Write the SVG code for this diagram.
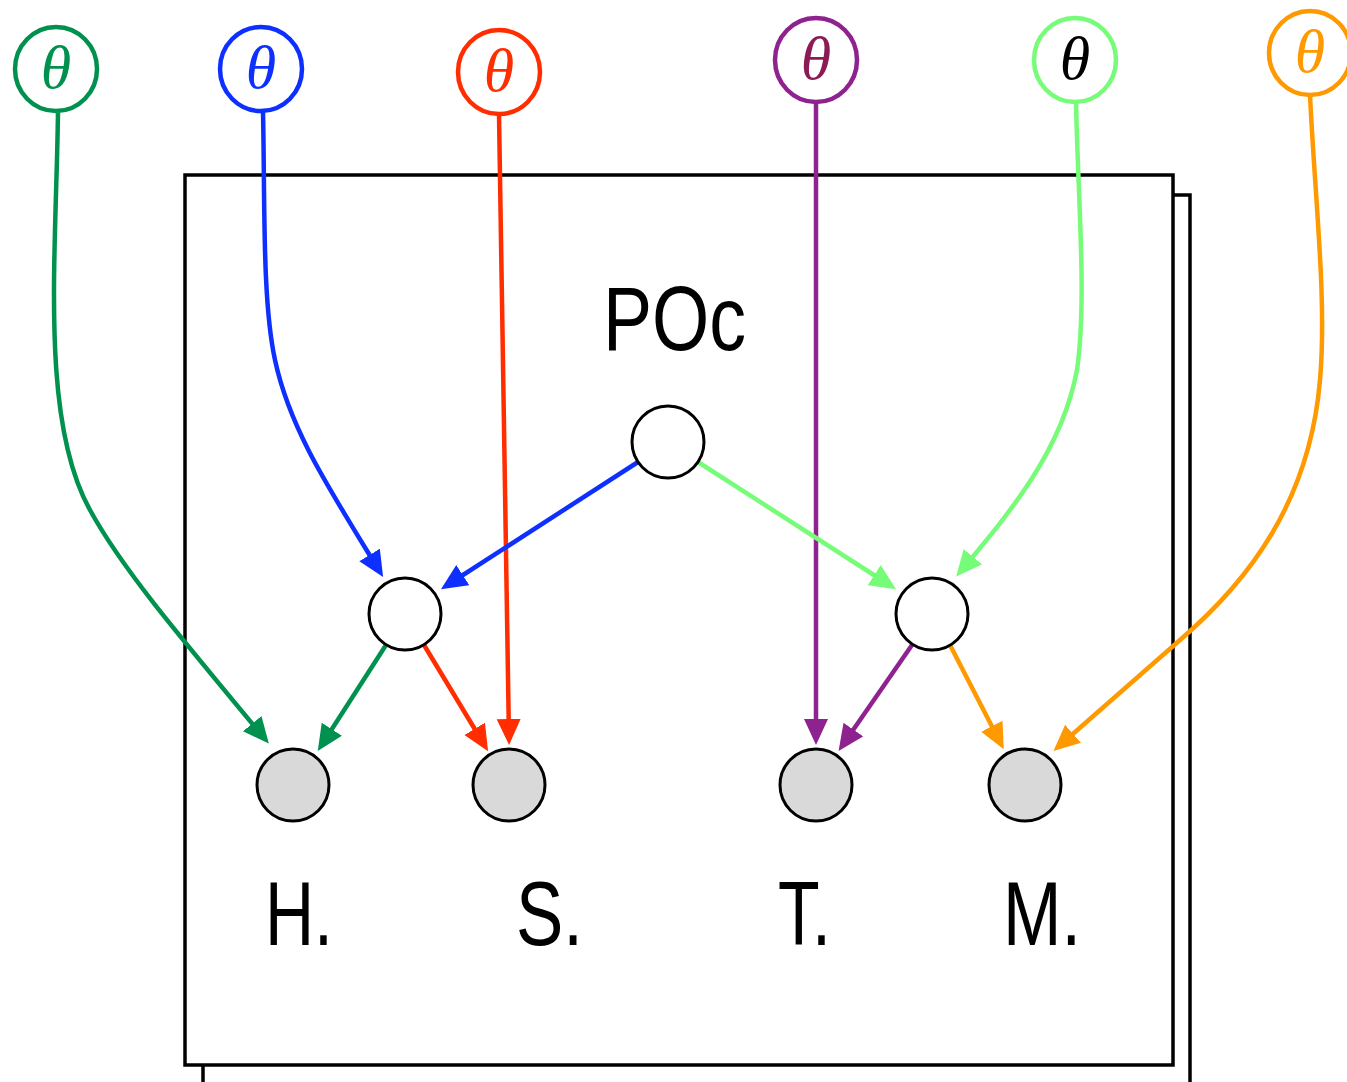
<svg xmlns="http://www.w3.org/2000/svg" width="1347" height="1082" viewBox="0 0 1347 1082">
<style>
.box{fill:#fff;stroke:#000;stroke-width:3.5}
.lat{fill:#fff;stroke:#000;stroke-width:3}
.obs{fill:#d9d9d9;stroke:#000;stroke-width:3}
.th{fill:#fff;stroke-width:4.5}
.tht{font-family:"Liberation Serif",serif;font-style:italic;font-size:62px;text-anchor:middle}
.lbl{font-family:"Liberation Sans",Arial,sans-serif;font-size:90px;fill:#000}
.e{fill:none;stroke-width:4.5}
</style>
<defs>
<marker id="mG" markerUnits="userSpaceOnUse" markerWidth="28" markerHeight="26" refX="20" refY="12" orient="auto"><path d="M0,0 L26,12 L0,24 Z" fill="#00914f"/></marker>
<marker id="mB" markerUnits="userSpaceOnUse" markerWidth="28" markerHeight="26" refX="20" refY="12" orient="auto"><path d="M0,0 L26,12 L0,24 Z" fill="#0d2fff"/></marker>
<marker id="mR" markerUnits="userSpaceOnUse" markerWidth="28" markerHeight="26" refX="20" refY="12" orient="auto"><path d="M0,0 L26,12 L0,24 Z" fill="#ff2d00"/></marker>
<marker id="mP" markerUnits="userSpaceOnUse" markerWidth="28" markerHeight="26" refX="20" refY="12" orient="auto"><path d="M0,0 L26,12 L0,24 Z" fill="#8e2390"/></marker>
<marker id="mL" markerUnits="userSpaceOnUse" markerWidth="28" markerHeight="26" refX="20" refY="12" orient="auto"><path d="M0,0 L26,12 L0,24 Z" fill="#76fc78"/></marker>
<marker id="mO" markerUnits="userSpaceOnUse" markerWidth="28" markerHeight="26" refX="20" refY="12" orient="auto"><path d="M0,0 L26,12 L0,24 Z" fill="#ff9900"/></marker>
</defs>
<g id="plate">
<rect class="box" x="203" y="195" width="987" height="890"/>
<rect class="box" x="185" y="175" width="988" height="890"/>
</g>
<g id="labels">
<text class="lbl" x="603" y="350" textLength="143" lengthAdjust="spacingAndGlyphs">POc</text>
<text class="lbl" x="265" y="945" textLength="68" lengthAdjust="spacingAndGlyphs">H.</text>
<text class="lbl" x="516" y="945" textLength="67" lengthAdjust="spacingAndGlyphs">S.</text>
<text class="lbl" x="778" y="945" textLength="53" lengthAdjust="spacingAndGlyphs">T.</text>
<text class="lbl" x="1003" y="945" textLength="78" lengthAdjust="spacingAndGlyphs">M.</text>
</g>
<g id="connectors">
<path class="e" stroke="#00914f" marker-end="url(#mG)" d="M58,112 C56,260 40,420 90,510 C120,565 170,625 265,739"/>
<path class="e" stroke="#0d2fff" marker-end="url(#mB)" d="M263,112 C265,200 262,300 275,360 C290,430 330,490 380,572"/>
<path class="e" stroke="#ff2d00" marker-end="url(#mR)" d="M499,114 L509,739"/>
<path class="e" stroke="#8e2390" marker-end="url(#mP)" d="M816,102 L816,739"/>
<path class="e" stroke="#76fc78" marker-end="url(#mL)" d="M1076,102 C1078,200 1087,300 1077,370 C1062,450 1012,510 960,572"/>
<path class="e" stroke="#ff9900" marker-end="url(#mO)" d="M1310,95 C1315,200 1327,300 1320,380 C1310,500 1250,580 1180,640 L1058,747"/>
<path class="e" stroke="#0d2fff" marker-end="url(#mB)" d="M638,462 L446,586"/>
<path class="e" stroke="#76fc78" marker-end="url(#mL)" d="M698,462 L891,586"/>
<path class="e" stroke="#00914f" marker-end="url(#mG)" d="M386,645 L321,746"/>
<path class="e" stroke="#ff2d00" marker-end="url(#mR)" d="M424,645 L485,746"/>
<path class="e" stroke="#8e2390" marker-end="url(#mP)" d="M912,645 L842,746"/>
<path class="e" stroke="#ff9900" marker-end="url(#mO)" d="M950,645 L1001,744"/>
</g>
<g id="theta-green"><ellipse class="th" stroke="#00914f" cx="56" cy="69" rx="41" ry="42"/><text class="tht" x="56" y="88" fill="#00914f">θ</text></g>
<g id="theta-blue"><ellipse class="th" stroke="#0d2fff" cx="261" cy="69" rx="41" ry="42"/><text class="tht" x="261" y="88" fill="#0d2fff">θ</text></g>
<g id="theta-red"><ellipse class="th" stroke="#ff2d00" cx="499" cy="72" rx="41" ry="42"/><text class="tht" x="499" y="91" fill="#ff2d00">θ</text></g>
<g id="theta-purple"><ellipse class="th" stroke="#8e2390" cx="816" cy="60" rx="41" ry="42"/><text class="tht" x="816" y="79" fill="#8b1a55">θ</text></g>
<g id="theta-lightgreen"><ellipse class="th" stroke="#76fc78" cx="1075" cy="60" rx="41" ry="42"/><text class="tht" x="1075" y="79" fill="#000">θ</text></g>
<g id="theta-orange"><ellipse class="th" stroke="#ff9900" cx="1310" cy="53" rx="41" ry="42"/><text class="tht" x="1310" y="72" fill="#ff9900">θ</text></g>
<g id="node-poc"><circle class="lat" cx="668" cy="442" r="36"/></g>
<g id="node-left"><circle class="lat" cx="405" cy="614" r="36"/></g>
<g id="node-right"><circle class="lat" cx="932" cy="614" r="36"/></g>
<g id="node-H"><circle class="obs" cx="293" cy="785" r="36"/></g>
<g id="node-S"><circle class="obs" cx="509" cy="785" r="36"/></g>
<g id="node-T"><circle class="obs" cx="816" cy="785" r="36"/></g>
<g id="node-M"><circle class="obs" cx="1025" cy="785" r="36"/></g>
</svg>
